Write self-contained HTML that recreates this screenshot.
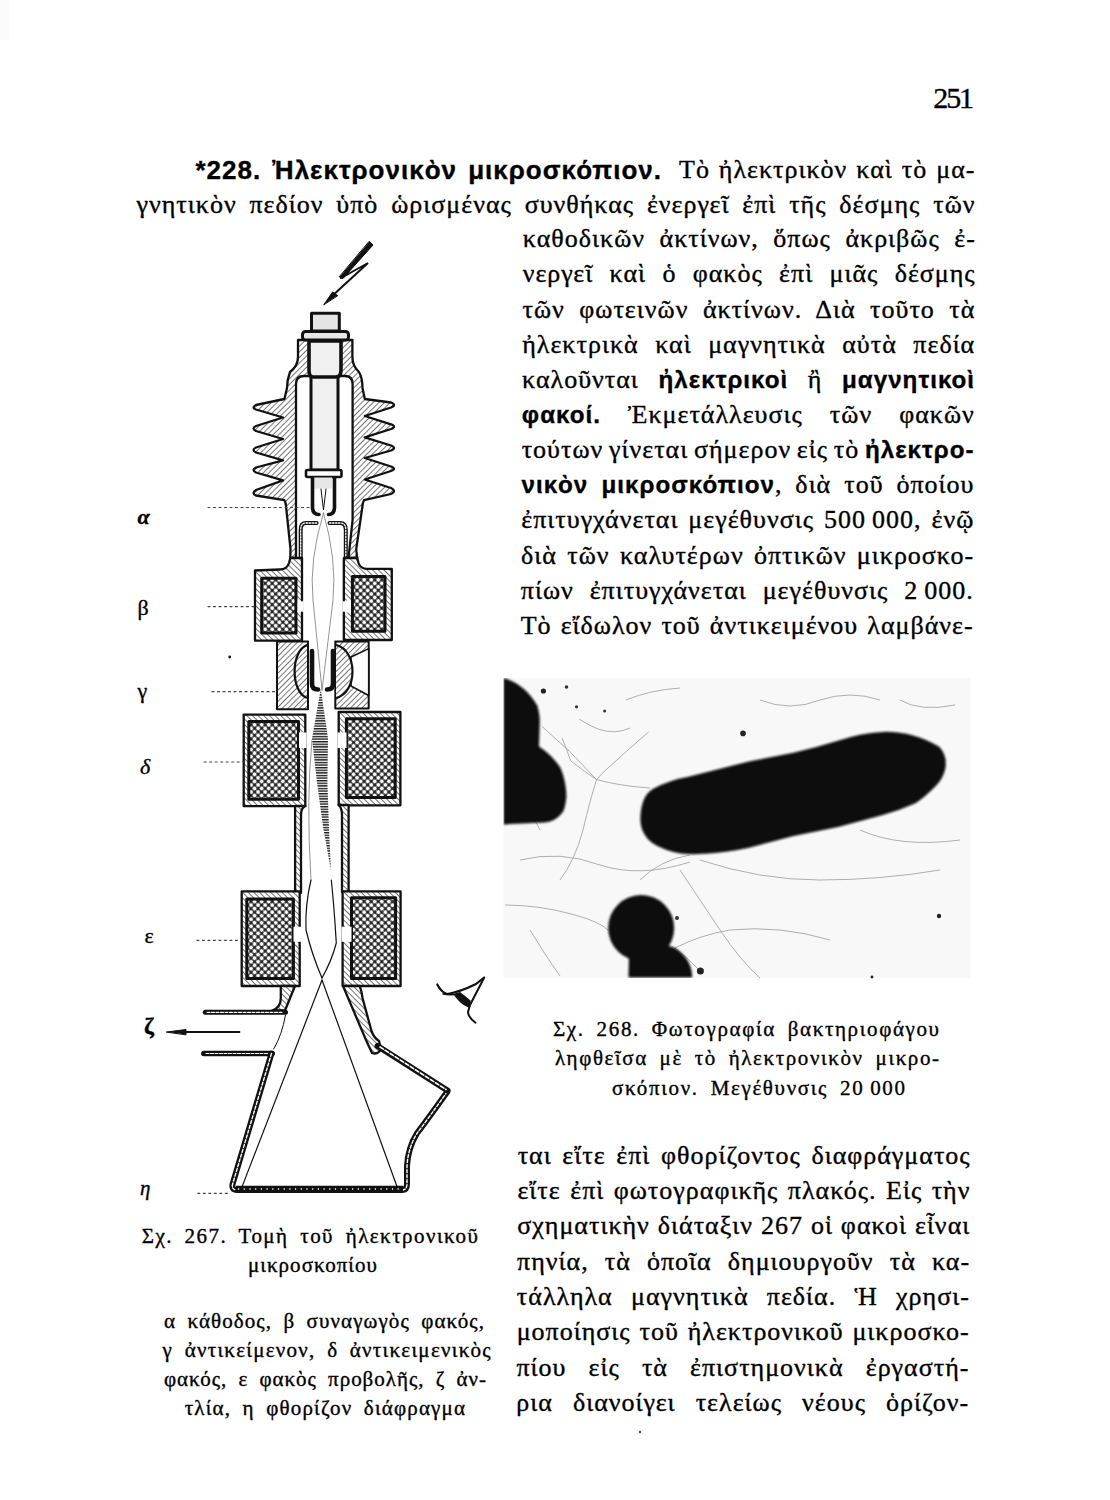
<!DOCTYPE html>
<html><head><meta charset="utf-8"><title>page 251</title>
<style>
html,body{margin:0;padding:0;background:#fff;}
#pg{position:relative;width:1110px;height:1500px;overflow:hidden;background:#fff;font-family:"Liberation Serif",serif;color:#000;}
.ln{position:absolute;white-space:nowrap;-webkit-text-stroke:0.35px #000;}
.ln b{font-weight:bold;}
svg#dg{position:absolute;left:0;top:0;}
.ln b{font-family:"Liberation Sans",sans-serif;font-weight:bold;font-size:0.93em;}
.ln b.h{font-size:1em;}
.ln b.s{font-family:"Liberation Serif",serif;font-size:1em;}

</style></head><body>
<div id="pg">
<svg id="dg" width="1110" height="1500" viewBox="0 0 1110 1500">
<defs>
<pattern id="hat" width="4" height="4" patternUnits="userSpaceOnUse" patternTransform="rotate(45)">
<rect width="4" height="4" fill="#fff"/><rect width="0.9" height="4" fill="#666"/></pattern>
<pattern id="hat2" width="4" height="4" patternUnits="userSpaceOnUse" patternTransform="rotate(-45)">
<rect width="4" height="4" fill="#fff"/><rect width="0.9" height="4" fill="#666"/></pattern>
<pattern id="coil" width="5" height="5" patternUnits="userSpaceOnUse" patternTransform="rotate(45)">
<rect width="5" height="5" fill="#222"/><circle cx="2.5" cy="2.5" r="2.0" fill="#fff"/></pattern>
<pattern id="hl" width="4" height="2.6" patternUnits="userSpaceOnUse">
<rect width="4" height="2.6" fill="#fff"/><rect width="4" height="1.4" fill="#1a1a1a"/></pattern>
<filter id="soft" x="-5%" y="-5%" width="110%" height="110%"><feGaussianBlur stdDeviation="0.8"/></filter>
<clipPath id="phclip"><rect x="503.5" y="678" width="467" height="300"/></clipPath>
</defs>
<g fill="none" stroke="#111" stroke-width="2.3" stroke-linejoin="round" stroke-linecap="round">
<!-- lightning -->
<path d="M369.5,241.5 L373,245 L343,278.5 L339.5,277 Z" fill="#111" stroke-width="1"/>
<path d="M341,278 L368,263 L331,297" stroke-width="2" stroke-linejoin="miter"/>
<path d="M324,304.5 L332.5,292 L337.5,295.5 Z" fill="#111" stroke-width="1"/>
<!-- insulator body with fins -->
<path fill="url(#hat)" d="M298,340 L298,357 Q298,366 290,372 Q287,380 287,388 L284.4,399
 L256,405 Q251,407.5 256,409.5 L283,417.5
 L256,426 Q251,428.5 256,431 L283,439
 L256,447.5 Q251,450 256,452.5 L283,460.4
 L256,467.5 Q251,470 256,472.5 L283,480.3
 L256,490 Q251,493 256,495.5 L284.4,500.2
 Q286,503 286,506 L290.5,549 L290.3,558
 L357.2,558 L356.2,549.4 L362.5,506 Q362.5,503 364,500.2
 L391,494 Q397,491 391,488 L364.8,479.5
 L391,471 Q397,468.8 391,466.5 L364.8,458
 L391,450.5 Q397,448 391,445.5 L364.8,437.4
 L391,429 Q397,426.7 391,424.3 L364.8,416
 L391,407.5 Q397,405 391,402.5 L364.8,399
 L362.5,388 Q362.5,378 359,372 Q352.4,366 352.4,357 L352.4,340 Z"/>
<!-- cavity -->
<path fill="#fff" stroke="none" d="M296,561 L296,384 Q296,376 304,376 L345,376 Q352.6,376 352.6,384 L352.6,520 L347,561 Z"/>
<path d="M296,558 L296,384 Q296,376 304,376 L345,376 Q352.6,376 352.6,384 L352.6,520 L348.5,558"/>
<!-- anode sheets -->
<path d="M316.6,523 L306,523 Q300.7,523 300.7,530 L300.7,560" stroke-width="4"/>
<path d="M316.6,523 L306,523 Q300.7,523 300.7,530 L300.7,560" stroke="#fff" stroke-width="1.3" stroke-dasharray="1.5 1.5"/>
<path d="M329.5,523 L340,523 Q345.8,523 345.8,530 L345.8,560" stroke-width="4"/>
<path d="M329.5,523 L340,523 Q345.8,523 345.8,530 L345.8,560" stroke="#fff" stroke-width="1.3" stroke-dasharray="1.5 1.5"/>
<!-- cathode tube -->
<rect x="311" y="372" width="27" height="98" fill="#f0f0f0" stroke-width="3"/>
<path d="M309,341 L309,370 Q309,377 313,377 L336,377 Q341,377 341,370 L341,341 Z" fill="#f0f0f0" stroke-width="3.6"/>
<rect x="311.5" y="313.3" width="27.8" height="17.7" fill="#e4e4e4" stroke-width="3"/>
<rect x="302.5" y="331.5" width="46" height="8.5" rx="3" fill="#e8e8e8" stroke-width="3"/>
<rect x="306" y="470" width="35.5" height="7" rx="1.5" fill="#fff" stroke-width="2.6"/>
<rect x="313" y="477.5" width="19" height="11" fill="#e6e6e6" stroke-width="0"/>
<path d="M312.5,478 L312.5,507 Q312.5,514.5 319,514.5" stroke-width="3.6"/>
<path d="M334.5,478 L334.5,507 Q334.5,514.5 328.5,514.5" stroke-width="3.6"/>
<path d="M321,489 L323.5,510 L326,489" stroke-width="1"/>
<!-- beta housing -->
<path fill="url(#hat2)" d="M290.3,558 L289,563 Q287,569.5 280,569.5 L255,570.5 L255,640.7 L302,640.7 L302,558 Z"/>
<path fill="url(#hat2)" d="M345.8,558 L357.2,558 L358.5,563 Q360.5,568.8 367,568.8 L391.8,568.8 L391.8,640 L343.9,640 L343.9,558 Z"/>
<rect x="261.7" y="578.2" width="34.3" height="54.8" fill="url(#coil)" stroke-width="3"/>
<rect x="352.4" y="576.5" width="32.6" height="54.8" fill="url(#coil)" stroke-width="3"/>
<rect x="297.5" y="600.5" width="6" height="12" fill="#fff" stroke="none"/>
<rect x="342.5" y="600.5" width="8.5" height="12" fill="#fff" stroke="none"/>
<path d="M302,558 L302,600.5 M302,612.5 L302,640.7 M343.9,558 L343.9,600.5 M343.9,612.5 L343.9,640" stroke-width="2"/>
<!-- gamma stage -->
<rect x="277" y="641.6" width="31" height="67.6" fill="url(#hat)" stroke-width="2"/>
<path d="M307.5,645 C290.3,650 290.3,693 307.5,698" stroke-width="2.2"/>
<rect x="335.3" y="641.6" width="33.4" height="66.8" fill="url(#hat)" stroke-width="2"/>
<path d="M351,657 L368.7,648.6 L368.7,695.5 L351,686 Z" fill="#fff" stroke-width="1.6"/>
<path d="M336,645 C358,650 358,693 336,698" stroke-width="2.2" fill="url(#hat)"/>
<path d="M312,651 L312,684 Q312,689.5 318,689.5" stroke-width="4.6"/>
<path d="M333,651 L333,684 Q333,689.5 327,689.5" stroke-width="4.6"/>
<!-- delta housing -->
<path fill="url(#hat2)" d="M243.7,714.6 L305.3,714.6 L305.3,806.2 L243.7,806.2 Z"/>
<path fill="url(#hat2)" d="M338.7,712 L400.4,712 L400.4,805.3 L338.7,805.3 Z"/>
<rect x="248.8" y="721.4" width="49.7" height="77.9" fill="url(#coil)" stroke-width="3"/>
<rect x="346.4" y="718.8" width="48.8" height="78.8" fill="url(#coil)" stroke-width="3"/>
<rect x="299" y="732.5" width="7.5" height="15.5" fill="#fff" stroke="none"/>
<rect x="337.5" y="732.5" width="9" height="15.5" fill="#fff" stroke="none"/>
<!-- tube delta-epsilon -->
<path fill="url(#hat2)" d="M295.1,806 L295.1,893 L301,893 L301,815 Q301,808 305.3,806 Z"/>
<path fill="url(#hat2)" d="M348.6,805 L348.6,892 L342,892 L342,815 Q342,808 338.7,805 Z"/>
<!-- epsilon housing -->
<path fill="url(#hat2)" d="M241.7,891.4 L299.7,891.4 L299.7,986 L241.7,986 Z"/>
<path fill="url(#hat2)" d="M342.6,891.4 L400.6,891.4 L400.6,986 L342.6,986 Z"/>
<rect x="246.8" y="899" width="46.6" height="79.4" fill="url(#coil)" stroke-width="3"/>
<rect x="351.5" y="897.7" width="44.1" height="80.7" fill="url(#coil)" stroke-width="3"/>
<rect x="293.5" y="926.7" width="7.5" height="15.1" fill="#fff" stroke="none"/>
<rect x="341.5" y="926.7" width="10" height="15.1" fill="#fff" stroke="none"/>
<!-- below epsilon -->
<path fill="url(#hat2)" d="M280.8,986 L295,986 L285,1010.5 L272,1010.5 Q280.8,1008 280.8,998 Z"/>
<path fill="url(#hat2)" d="M343,986 L359.5,986 Q361.5,990 362.5,998 L371.5,1031 Q374,1038 379,1041 L381,1049 Q378,1055 372,1053 L366,1040 Z"/>
<!-- pump -->
<path d="M205.3,1012.3 L285.5,1012.3" stroke-width="5"/>
<path d="M207,1012.3 L283,1012.3" stroke="#fff" stroke-width="1.2" stroke-dasharray="3 1.5"/>
<path d="M203.8,1053.5 L272.2,1053.5" stroke-width="5.5"/>
<path d="M206,1053.5 L268,1053.5" stroke="#fff" stroke-width="1.2" stroke-dasharray="3 1.5"/>
<path d="M285.5,1015 Q282,1035 273.7,1049" stroke-width="1"/>
<path d="M239.5,1032 L180,1032" stroke-width="1.8"/>
<path d="M166.6,1032 L186,1029.5 L186,1034.5 Z" fill="#111" stroke-width="1"/>
<!-- funnel walls -->
<path d="M271.5,1053.5 L232.6,1184 Q231.3,1190 237,1190 L402,1190 Q407,1190 407,1184 L407,1166 Q408,1148 417,1133.3 Q430,1116 447.3,1091.7" stroke-width="6"/>
<path d="M271.5,1053.5 L232.6,1184 Q231.3,1190 237,1190 L402,1190 Q407,1190 407,1184 L407,1166 Q408,1148 417,1133.3 Q430,1116 447.3,1091.7" stroke="#fff" stroke-width="1.4" stroke-dasharray="3 2"/>
<path d="M236,1189 L403,1189" stroke-width="6.4" stroke-linecap="butt"/>
<path d="M238,1189 L401,1189" stroke="#fff" stroke-width="1.4" stroke-dasharray="1.2 4.5" stroke-linecap="butt"/>
<path d="M377.5,1046 L447.5,1090.5" stroke-width="6"/>
<path d="M380,1047 L446,1089.5" stroke="#fff" stroke-width="1.6" stroke-dasharray="4 2"/>
<!-- beam lines -->
<g stroke-width="1.2">
<path d="M322,980 L241.7,1187.6"/>
<path d="M322,980 L396.9,1186.3"/>
<path d="M322,978 Q312,955 306,930 Q305,905 311,880"/>
<path d="M322,978 Q332,960 336.3,943 Q334,905 331.3,880"/>
</g>
<g stroke-width="0.7" stroke="#666">
<path d="M323.5,513 Q309,560 313,600 Q318,650 322,690"/>
<path d="M323.5,513 Q337,560 333,600 Q327,650 322,690"/>
<path d="M311,880 Q306,800 312,740"/>
</g>
<path d="M320.8,688.8 L312,738.7 L317,782.6 L323,826.6 L331,870.6 L328.9,826.6 L327.4,782.6 L328,738.7 Z" fill="url(#hl)" stroke="none"/>
<!-- leaders -->
<g stroke-width="1.2" stroke-dasharray="2 3.5" stroke="#444">
<path d="M208,507.5 L309,507.5"/>
<path d="M208,606.6 L255,606.6"/>
<path d="M212,691.7 L276,691.7"/>
<path d="M204.2,762 L243,762"/>
<path d="M196.9,940.3 L240.9,940.3"/>
<path d="M197.8,1193.3 L227.6,1193.3"/>
</g>
<circle cx="229.7" cy="657" r="1.4" fill="#111" stroke="none"/>
<!-- eye -->
<path d="M437.3,984.5 Q441,992 447,994 Q460,992 476,984 L484.1,977.7" stroke-width="2.2"/>
<path d="M443,994 Q452,996 460,993" stroke-width="1.5"/>
<path d="M484.1,977.7 L470,1005 L468,1012 Q468,1017 475.5,1022.7" stroke-width="2"/>
<path d="M455,995 Q460,1003 469,1007 L470,1001 Q463,995 460,993 Z" fill="#111" stroke-width="1.5"/>
</g>
<rect x="0" y="0" width="9" height="40" fill="#fbfbfb"/>
<circle cx="640" cy="1432" r="1.2" fill="#444"/>
<!-- photo -->
<g>
<rect x="503.5" y="678" width="467" height="300" fill="#f8f8f8"/>
<g fill="none" stroke="#8a8a8a" stroke-width="0.9" opacity="0.75">
<path d="M541.9,726.3 Q570,750 596.6,779.6 Q620,786 650,788"/>
<path d="M562,737.8 Q567,750 570.7,760.9 Q585,772 596.6,779.6"/>
<path d="M648.5,732 Q630,748 609.6,766.6 Q600,775 596.6,779.6"/>
<path d="M579,719 Q590,726 598,729 Q615,735 630,728"/>
<path d="M596.6,779.6 Q590,800 583,830 Q575,860 560,880"/>
<path d="M520,860 Q560,850 600,865 Q640,878 690,862"/>
<path d="M505,905 Q540,905 575,915 Q600,922 608,930"/>
<path d="M675,948 Q700,935 730,930 Q780,925 830,940"/>
<path d="M680,870 Q700,900 720,930 Q740,960 760,978"/>
<path d="M700,860 Q760,880 820,880 Q880,880 940,870"/>
<path d="M530,930 Q545,955 560,976"/>
<path d="M760,700 Q790,712 820,700 Q850,690 880,700"/>
<path d="M900,700 Q920,712 955,705"/>
<path d="M860,830 Q900,848 960,840"/>
<path d="M640,880 Q660,860 690,855"/>
<path d="M626,700 Q650,690 680,688"/>
<path d="M675,948 Q690,960 700,971"/>
<path d="M520,800 Q530,810 540,830"/>
</g>
<g filter="url(#soft)" clip-path="url(#phclip)" fill="#0a0a0a">
<path fill="#0a0a0a" d="M503.5,678 Q525,684 537.5,706 Q540,716 539.7,722 L539,746.5 Q552,755 560.6,768 Q566.4,782 566.4,797 Q565,810 562,813 Q555,822 544,822.5 L503.5,824.4 Z"/>
<path fill="#0a0a0a" d="M640.4,818.1 Q641,795 653.8,788.4 Q670,780 689.5,776.5 L748.9,761.6 L793.5,752.7 Q815,748 838,740.8 Q860,733 882.7,731.9 Q912,731 939.2,746.8 Q948,756 945,770 Q942,780 936.2,785.4 Q925,797 915.4,803.2 Q900,810 882.7,815.1 L838,827 L793.5,835.9 L748.9,847.8 Q725,853 704.3,853.8 Q685,855 674.6,852.3 Q655,847 647.8,838.9 Q640,830 640.4,818.1 Z"/>
<circle cx="641.2" cy="928" r="33"/>
<path fill="#0a0a0a" d="M629,955 L628.5,977.5 L692.2,977.5 Q692,958 673.3,947 Q660,944 645,950 Z"/>
</g>
<circle cx="743" cy="733.4" r="2.8" fill="#222"/>
<circle cx="700.4" cy="970.9" r="3.5" fill="#222"/>
<circle cx="543.4" cy="691" r="2.6" fill="#222"/>
<circle cx="566.5" cy="687" r="1.8" fill="#333"/>
<circle cx="576.5" cy="706.8" r="1.6" fill="#333"/>
<circle cx="604.6" cy="711" r="1.5" fill="#333"/>
<circle cx="939" cy="916" r="2.2" fill="#222"/>
<circle cx="872" cy="977" r="1.4" fill="#222"/>
<circle cx="677" cy="918" r="2" fill="#333"/>
</g>
</svg>

<div class="ln t" id="ln0" style="left:195.50px;top:156.73px;font-size:26px;line-height:26px;word-spacing:2.875px;letter-spacing:1.000px"><b class=h>*228. Ἠλεκτρονικὸν μικροσκόπιον.</b></div>
<div class="ln t" id="ln1" style="left:679.00px;top:156.73px;font-size:26px;line-height:26px;word-spacing:1.488px;letter-spacing:1.000px">Τὸ ἠλεκτρικὸν καὶ τὸ μα-</div>
<div class="ln t" id="ln2" style="left:136.50px;top:191.93px;font-size:26px;line-height:26px;word-spacing:5.328px;letter-spacing:1.000px">γνητικὸν πεδίον ὑπὸ ὡρισμένας συνθήκας ἐνεργεῖ ἐπὶ τῆς δέσμης τῶν</div>
<div class="ln t" id="ln3" style="left:522.86px;top:226.33px;font-size:26px;line-height:26px;word-spacing:7.023px;letter-spacing:1.000px">καθοδικῶν ἀκτίνων, ὅπως ἀκριβῶς ἐ-</div>
<div class="ln t" id="ln4" style="left:522.66px;top:261.47px;font-size:26px;line-height:26px;word-spacing:8.828px;letter-spacing:1.000px">νεργεῖ καὶ ὁ φακὸς ἐπὶ μιᾶς δέσμης</div>
<div class="ln t" id="ln5" style="left:522.46px;top:296.61px;font-size:26px;line-height:26px;word-spacing:7.006px;letter-spacing:1.000px">τῶν φωτεινῶν ἀκτίνων. Διὰ τοῦτο τὰ</div>
<div class="ln t" id="ln6" style="left:522.26px;top:331.75px;font-size:26px;line-height:26px;word-spacing:9.023px;letter-spacing:1.000px">ἠλεκτρικὰ καὶ μαγνητικὰ αὐτὰ πεδία</div>
<div class="ln t" id="ln7" style="left:522.06px;top:366.89px;font-size:26px;line-height:26px;word-spacing:12.115px;letter-spacing:1.000px">καλοῦνται <b>ἠλεκτρικοὶ</b> ἢ <b>μαγνητικοὶ</b></div>
<div class="ln t" id="ln8" style="left:521.86px;top:402.03px;font-size:26px;line-height:26px;word-spacing:19.583px;letter-spacing:1.000px"><b>φακοί.</b> Ἐκμετάλλευσις τῶν φακῶν</div>
<div class="ln t" id="ln9" style="left:521.67px;top:437.17px;font-size:26px;line-height:26px;word-spacing:-1.791px;letter-spacing:1.000px">τούτων γίνεται σήμερον εἰς τὸ <b>ἠλεκτρο-</b></div>
<div class="ln t" id="ln10" style="left:521.47px;top:472.31px;font-size:26px;line-height:26px;word-spacing:5.453px;letter-spacing:1.000px"><b>νικὸν μικροσκόπιον</b>, διὰ τοῦ ὁποίου</div>
<div class="ln t" id="ln11" style="left:521.27px;top:507.45px;font-size:26px;line-height:26px;word-spacing:2.391px;letter-spacing:1.000px">ἐπιτυγχάνεται μεγέθυνσις 500 000, ἐνῷ</div>
<div class="ln t" id="ln12" style="left:521.07px;top:542.59px;font-size:26px;line-height:26px;word-spacing:2.836px;letter-spacing:1.000px">διὰ τῶν καλυτέρων ὀπτικῶν μικροσκο-</div>
<div class="ln t" id="ln13" style="left:520.87px;top:577.73px;font-size:26px;line-height:26px;word-spacing:8.323px;letter-spacing:1.000px">πίων ἐπιτυγχάνεται μεγέθυνσις 2 000.</div>
<div class="ln t" id="ln14" style="left:520.67px;top:612.87px;font-size:26px;line-height:26px;word-spacing:1.621px;letter-spacing:1.000px">Τὸ εἴδωλον τοῦ ἀντικειμένου λαμβάνε-</div>
<div class="ln t" id="ln15" style="left:517.66px;top:1142.73px;font-size:26px;line-height:26px;word-spacing:3.152px;letter-spacing:1.000px">ται εἴτε ἐπὶ φθορίζοντος διαφράγματος</div>
<div class="ln t" id="ln16" style="left:517.46px;top:1178.07px;font-size:26px;line-height:26px;word-spacing:1.975px;letter-spacing:1.000px">εἴτε ἐπὶ φωτογραφικῆς πλακός. Εἰς τὴν</div>
<div class="ln t" id="ln17" style="left:517.25px;top:1213.41px;font-size:26px;line-height:26px;word-spacing:0.434px;letter-spacing:1.000px">σχηματικὴν διάταξιν 267 οἱ φακοὶ εἶναι</div>
<div class="ln t" id="ln18" style="left:517.05px;top:1248.75px;font-size:26px;line-height:26px;word-spacing:8.622px;letter-spacing:1.000px">πηνία, τὰ ὁποῖα δημιουργοῦν τὰ κα-</div>
<div class="ln t" id="ln19" style="left:516.85px;top:1284.09px;font-size:26px;line-height:26px;word-spacing:10.750px;letter-spacing:1.000px">τάλληλα μαγνητικὰ πεδία. Ἡ χρησι-</div>
<div class="ln t" id="ln20" style="left:516.65px;top:1319.43px;font-size:26px;line-height:26px;word-spacing:1.396px;letter-spacing:1.000px">μοποίησις τοῦ ἠλεκτρονικοῦ μικροσκο-</div>
<div class="ln t" id="ln21" style="left:516.45px;top:1354.77px;font-size:26px;line-height:26px;word-spacing:14.621px;letter-spacing:1.000px">πίου εἰς τὰ ἐπιστημονικὰ ἐργαστή-</div>
<div class="ln t" id="ln22" style="left:516.25px;top:1390.11px;font-size:26px;line-height:26px;word-spacing:12.625px;letter-spacing:1.000px">ρια διανοίγει τελείως νέους ὁρίζον-</div>
<div class="ln c" id="ln23" style="left:553.00px;top:1019.41px;font-size:21px;line-height:21px;word-spacing:5.000px;letter-spacing:1.639px">Σχ. 268. Φωτογραφία βακτηριοφάγου</div>
<div class="ln c" id="ln24" style="left:555.00px;top:1048.41px;font-size:21px;line-height:21px;word-spacing:5.000px;letter-spacing:1.602px">ληφθεῖσα μὲ τὸ ἠλεκτρονικὸν μικρο-</div>
<div class="ln c" id="ln25" style="left:612.00px;top:1078.11px;font-size:21px;line-height:21px;word-spacing:5.000px;letter-spacing:1.661px">σκόπιον. Μεγέθυνσις 20 000</div>
<div class="ln c" id="ln26" style="left:141.70px;top:1226.41px;font-size:21px;line-height:21px;word-spacing:5.000px;letter-spacing:1.466px">Σχ. 267. Τομὴ τοῦ ἠλεκτρονικοῦ</div>
<div class="ln c" id="ln27" style="left:248.00px;top:1255.41px;font-size:21px;line-height:21px;letter-spacing:1.036px">μικροσκοπίου</div>
<div class="ln c" id="ln28" style="left:164.00px;top:1311.11px;font-size:21px;line-height:21px;word-spacing:5.000px;letter-spacing:1.095px">α κάθοδος, β συναγωγὸς φακός,</div>
<div class="ln c" id="ln29" style="left:162.60px;top:1339.91px;font-size:21px;line-height:21px;word-spacing:5.000px;letter-spacing:1.270px">γ ἀντικείμενον, δ ἀντικειμενικὸς</div>
<div class="ln c" id="ln30" style="left:164.00px;top:1369.21px;font-size:21px;line-height:21px;word-spacing:5.000px;letter-spacing:0.980px">φακός, ε φακὸς προβολῆς, ζ ἀν-</div>
<div class="ln c" id="ln31" style="left:184.70px;top:1398.31px;font-size:21px;line-height:21px;word-spacing:5.000px;letter-spacing:1.185px">τλία, η φθορίζον διάφραγμα</div>
<div class="ln c" id="ln32" style="left:933.30px;top:82.68px;font-size:30px;line-height:30px;letter-spacing:-2.100px">251</div>
<div class="ln lab" id="ln33" style="left:137.60px;top:505.58px;font-size:22px;line-height:22px"><b class=s><i>α</i></b></div>
<div class="ln lab" id="ln34" style="left:137.50px;top:596.58px;font-size:22px;line-height:22px">β</div>
<div class="ln lab" id="ln35" style="left:137.50px;top:679.58px;font-size:22px;line-height:22px">γ</div>
<div class="ln lab" id="ln36" style="left:140.00px;top:756.08px;font-size:22px;line-height:22px"><i>δ</i></div>
<div class="ln lab" id="ln37" style="left:144.50px;top:924.78px;font-size:22px;line-height:22px">ε</div>
<div class="ln lab" id="ln38" style="left:144.00px;top:1013.90px;font-size:24px;line-height:24px"><b class=s>ζ</b></div>
<div class="ln lab" id="ln39" style="left:140.00px;top:1178.41px;font-size:21px;line-height:21px"><i>η</i></div>
</div>
</body></html>
